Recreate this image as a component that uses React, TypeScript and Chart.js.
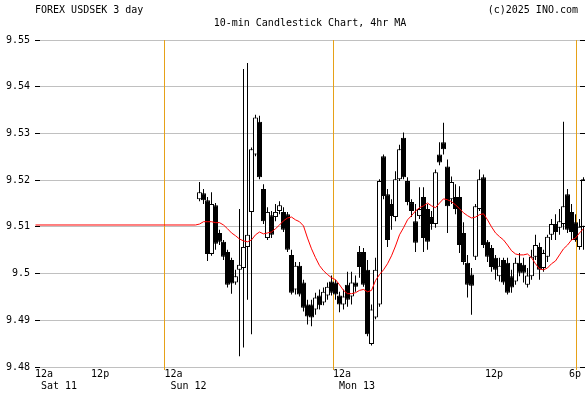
import { useEffect, useRef } from 'react';
import { Chart, registerables } from 'chart.js';

Chart.register(...registerables);

// ---- Data (USD/SEK, 10-min candles; one entry per bar slot starting at FIRST_SLOT) ----
const FIRST_SLOT = 41;

const opens = [
  9.5159, 9.5172, 9.5157, 9.5042, 9.5146, 9.5087, 9.5068, 9.5046, 9.5029, 9.4981,
  9.5008, 9.5012, 9.5057, 9.5132, 9.5255, 9.5325, 9.5181, 9.5076, 9.5125, 9.5121,
  9.5134, 9.5132, 9.5127, 9.5040, 9.4966, 9.5017, 9.4981, 9.4934, 9.4934, 9.4923,
  9.4953, 9.4938, 9.4953, 9.4983, 9.4981, 9.4953, 9.4934, 9.4976, 9.4951, 9.4981,
  9.5046, 9.5046, 9.5008, 9.4849, 9.4906, 9.4934, 9.5251, 9.5170, 9.5149, 9.5121,
  9.5202, 9.5291, 9.5198, 9.5153, 9.5112, 9.5123, 9.5164, 9.5138, 9.5121, 9.5106,
  9.5255, 9.5281, 9.5229, 9.5159, 9.5164, 9.5164, 9.5087, 9.5023, 9.4998, 9.5036,
  9.5138, 9.5206, 9.5068, 9.5055, 9.5034, 9.4994, 9.5029, 9.5023, 9.4994, 9.4983,
  9.5023, 9.5019, 9.4976, 9.4994, 9.5036, 9.5057, 9.5012, 9.5036, 9.5083, 9.5106,
  9.5098, 9.5106, 9.5170, 9.5132, 9.5110, 9.5057, 9.5100,
];

const highs = [
  9.5196, 9.5181, 9.5164, 9.5174, 9.5151, 9.5094, 9.5072, 9.5051, 9.5034, 9.5008,
  9.5138, 9.5438, 9.5451, 9.5270, 9.5340, 9.5338, 9.5191, 9.5142, 9.5134, 9.5149,
  9.5155, 9.5142, 9.5132, 9.5051, 9.5025, 9.5025, 9.4987, 9.4944, 9.4944, 9.4959,
  9.4966, 9.4970, 9.4981, 9.4996, 9.4987, 9.4961, 9.4966, 9.5004, 9.5004, 9.4996,
  9.5059, 9.5055, 9.5029, 9.4934, 9.5034, 9.5202, 9.5255, 9.5181, 9.5159, 9.5219,
  9.5276, 9.5302, 9.5206, 9.5159, 9.5149, 9.5185, 9.5185, 9.5149, 9.5134, 9.5223,
  9.5281, 9.5323, 9.5244, 9.5208, 9.5191, 9.5187, 9.5110, 9.5040, 9.5012, 9.5149,
  9.5223, 9.5212, 9.5072, 9.5061, 9.5040, 9.5034, 9.5034, 9.5034, 9.5008, 9.5034,
  9.5044, 9.5034, 9.5012, 9.5051, 9.5083, 9.5066, 9.5051, 9.5083, 9.5117, 9.5127,
  9.5138, 9.5325, 9.5181, 9.5149, 9.5127, 9.5117, 9.5206,
];

const lows = [
  9.5155, 9.5149, 9.5027, 9.5038, 9.5051, 9.5061, 9.5029, 9.4970, 9.4957, 9.4976,
  9.4823, 9.4842, 9.4944, 9.4870, 9.5251, 9.5202, 9.5106, 9.5072, 9.5076, 9.5112,
  9.5127, 9.5089, 9.5046, 9.4955, 9.4955, 9.4951, 9.4919, 9.4891, 9.4887, 9.4912,
  9.4923, 9.4932, 9.4944, 9.4953, 9.4944, 9.4917, 9.4923, 9.4929, 9.4934, 9.4961,
  9.4991, 9.4972, 9.4866, 9.4846, 9.4902, 9.4929, 9.5159, 9.5057, 9.5094, 9.5112,
  9.5198, 9.5202, 9.5146, 9.5121, 9.5046, 9.5117, 9.5046, 9.5051, 9.5094, 9.5098,
  9.5232, 9.5255, 9.5087, 9.5149, 9.5127, 9.5044, 9.5019, 9.4949, 9.4912, 9.5029,
  9.5134, 9.5055, 9.5025, 9.5004, 9.4987, 9.4983, 9.4976, 9.4955, 9.4959, 9.4976,
  9.4994, 9.4981, 9.4970, 9.4987, 9.5029, 9.4987, 9.5004, 9.5025, 9.5072, 9.5072,
  9.5083, 9.5094, 9.5087, 9.5072, 9.5068, 9.5051, 9.5051,
];

const closes = [
  9.5174, 9.5157, 9.5042, 9.5149, 9.5064, 9.5068, 9.5036, 9.4976, 9.4979, 9.4994,
  9.5019, 9.5057, 9.5083, 9.5266, 9.5334, 9.5206, 9.5112, 9.5132, 9.5083, 9.5132,
  9.5146, 9.5094, 9.5051, 9.4959, 9.5017, 9.4955, 9.4927, 9.4908, 9.4906, 9.4949,
  9.4932, 9.4961, 9.4972, 9.4959, 9.4955, 9.4934, 9.4951, 9.4944, 9.4981, 9.4972,
  9.5014, 9.4976, 9.4870, 9.4923, 9.5008, 9.5198, 9.5166, 9.5072, 9.5123, 9.5202,
  9.5266, 9.5206, 9.5153, 9.5134, 9.5066, 9.5138, 9.5076, 9.5068, 9.5106, 9.5217,
  9.5238, 9.5266, 9.5144, 9.5196, 9.5138, 9.5061, 9.5025, 9.4976, 9.4974, 9.5144,
  9.5202, 9.5061, 9.5036, 9.5014, 9.5008, 9.5017, 9.4981, 9.4959, 9.4970, 9.5023,
  9.5002, 9.5002, 9.4996, 9.5036, 9.5061, 9.5008, 9.5044, 9.5079, 9.5106, 9.5089,
  9.5112, 9.5144, 9.5094, 9.5089, 9.5072, 9.5100, 9.5202,
];

// 4hr moving average, one value per candle
const maValues = [
  9.5106, 9.5111, 9.5111, 9.5111, 9.5109, 9.5109, 9.5104, 9.5096, 9.5087, 9.5081,
  9.5074, 9.5070, 9.5068, 9.5072, 9.5083, 9.5089, 9.5085, 9.5087, 9.5089, 9.5096,
  9.5104, 9.5113, 9.5119, 9.5121, 9.5115, 9.5111, 9.5102, 9.5076, 9.5053, 9.5034,
  9.5017, 9.5006, 9.4998, 9.4991, 9.4987, 9.4976, 9.4964, 9.4957, 9.4957, 9.4959,
  9.4964, 9.4966, 9.4961, 9.4964, 9.4985, 9.4998, 9.5008, 9.5021, 9.5038, 9.5059,
  9.5083, 9.5098, 9.5115, 9.5124, 9.5134, 9.5141, 9.5145, 9.5151, 9.5145, 9.5141,
  9.5151, 9.5160, 9.5158, 9.5154, 9.5147, 9.5139, 9.5130, 9.5124, 9.5119, 9.5121,
  9.5126, 9.5128, 9.5115, 9.5100, 9.5087, 9.5079, 9.5072, 9.5061, 9.5049, 9.5042,
  9.5040, 9.5040, 9.5042, 9.5034, 9.5021, 9.5010, 9.5008, 9.5012, 9.5021, 9.5027,
  9.5040, 9.5053, 9.5061, 9.5072, 9.5076, 9.5087, 9.5096,
];
// MA carried flat across the weekend gap (slots with no trading)
const maLeadSlots = [0, 40];
const maLeadValue = 9.5104;

// Axes
const X_MIN = -0.125;
const X_MAX = 137.375;
const tickSlots = [-0.125, 13.9, 32.25, 74.375, 112.375, 133.375];
const tickLabels = [['12a', ' Sat 11'], ['12p'], ['12a', ' Sun 12'], ['12a', ' Mon 13'], ['12p'], ['6p']];
const dayLineSlots = [32.25, 74.375, 135.125];
const yTickValues = [9.48, 9.49, 9.5, 9.51, 9.52, 9.53, 9.54, 9.55];

const headerLeft = 'FOREX USDSEK 3 day';
const headerRight = '(c)2025 INO.com';
const titleText = '10-min Candlestick Chart, 4hr MA';

const FONT_FAMILY = '"DejaVu Sans Mono", "Liberation Mono", monospace';
const FONT_CSS = `10px ${FONT_FAMILY}`;

const align = (p: number) => Math.round(p - 0.5) + 0.5;

const decorPlugin = {
  id: 'decor',
  beforeDatasetsDraw(chart: any) {
    const { ctx, chartArea, scales } = chart;
    ctx.save();
    ctx.strokeStyle = '#e6a118';
    ctx.lineWidth = 1;
    dayLineSlots.forEach((s) => {
      const px = align(scales.x.getPixelForValue(s));
      ctx.beginPath();
      ctx.moveTo(px, chartArea.top);
      ctx.lineTo(px, chartArea.bottom + 3);
      ctx.stroke();
    });
    ctx.restore();
  },
  afterDraw(chart: any) {
    const { ctx, chartArea, scales } = chart;
    ctx.save();
    ctx.strokeStyle = '#000';
    ctx.lineWidth = 1;
    yTickValues.forEach((v) => {
      const py = align(scales.y.getPixelForValue(v));
      ctx.beginPath();
      ctx.moveTo(chartArea.left, py);
      ctx.lineTo(chartArea.left + 5, py);
      ctx.moveTo(chartArea.right - 5, py);
      ctx.lineTo(chartArea.right, py);
      ctx.stroke();
    });
    ctx.font = FONT_CSS;
    ctx.fillStyle = '#000';
    ctx.textBaseline = 'middle';
    ctx.textAlign = 'left';
    ctx.fillText(headerLeft, chartArea.left, 10);
    ctx.textAlign = 'right';
    ctx.fillText(headerRight, chartArea.right - 7, 10);
    ctx.textAlign = 'center';
    ctx.fillText(titleText, (chartArea.left + chartArea.right) / 2, 23);
    ctx.restore();
  },
};

export default function App() {
  const ref = useRef<HTMLCanvasElement>(null);

  useEffect(() => {
    document.body.style.margin = '0';
    const canvas = ref.current;
    if (!canvas) return;

    const slots = opens.map((_, i) => FIRST_SLOT + i);
    const bodies = slots.map((x, i) => ({ x, y: [opens[i], closes[i]] }));
    const wicks = slots.map((x, i) => ({ x, y: [lows[i], highs[i]] }));
    const bodyColors = slots.map((_, i) => (closes[i] >= opens[i] ? '#ffffff' : '#000000'));
    const maPoints = [
      ...maLeadSlots.map((x) => ({ x, y: maLeadValue })),
      ...slots.map((x, i) => ({ x, y: maValues[i] })),
    ];

    const tickFont = { family: FONT_FAMILY, size: 10 };

    const chart = new Chart(canvas, {
      type: 'bar',
      data: {
        datasets: [
          {
            type: 'line',
            label: '4hr MA',
            data: maPoints as any,
            borderColor: '#ff0000',
            borderWidth: 1,
            pointRadius: 0,
            tension: 0,
            order: 0,
          } as any,
          {
            type: 'bar',
            label: 'body',
            data: bodies as any,
            backgroundColor: bodyColors,
            borderColor: '#000000',
            borderWidth: 1,
            borderSkipped: false,
            barThickness: 5,
            grouped: false,
            inflateAmount: 0,
            order: 1,
          } as any,
          {
            type: 'bar',
            label: 'wick',
            data: wicks as any,
            backgroundColor: '#000000',
            borderWidth: 0,
            barThickness: 1,
            grouped: false,
            inflateAmount: 0,
            order: 2,
          } as any,
        ],
      },
      options: {
        responsive: false,
        animation: false,
        devicePixelRatio: 1,
        layout: { padding: { top: 40, left: 0, right: 0, bottom: 0 } },
        plugins: {
          legend: { display: false },
          tooltip: { enabled: false },
          title: { display: false },
        },
        scales: {
          x: {
            type: 'linear',
            min: X_MIN,
            max: X_MAX,
            offset: false,
            grid: { display: false, drawTicks: false },
            border: { display: false },
            afterBuildTicks: (s: any) => {
              s.ticks = tickSlots.map((v) => ({ value: v }));
            },
            afterFit: (s: any) => {
              s.height = 27;
            },
            ticks: {
              autoSkip: false,
              maxRotation: 0,
              minRotation: 0,
              align: 'start',
              padding: 1,
              color: '#000',
              font: tickFont,
              callback: (_v: any, i: number) => tickLabels[i],
            },
          } as any,
          y: {
            type: 'linear',
            min: 9.48,
            max: 9.55,
            beginAtZero: false,
            grid: { color: '#c0c0c0', lineWidth: 1, drawTicks: false },
            border: { display: false },
            afterBuildTicks: (s: any) => {
              s.ticks = yTickValues.map((v) => ({ value: v }));
            },
            afterFit: (s: any) => {
              s.width = 35;
            },
            ticks: {
              padding: 5,
              color: '#000',
              font: tickFont,
              callback: (v: any) => String(parseFloat(Number(v).toFixed(2))),
            },
          } as any,
        },
      },
      plugins: [decorPlugin],
    });

    return () => chart.destroy();
  }, []);

  return (
    <canvas
      ref={ref}
      width={585}
      height={394}
      style={{ display: 'block', width: 585, height: 394 }}
    />
  );
}
